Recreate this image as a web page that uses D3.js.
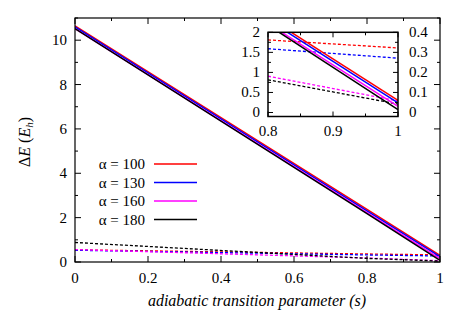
<!DOCTYPE html>
<html>
<head>
<meta charset="utf-8">
<script src="https://cdn.jsdelivr.net/npm/d3@7"></script>
</head>
<body style="margin:0">
<div id="c"></div>
<script>
// ---------- data ----------
const alphas = [100, 130, 160, 180];
const colors = ['#ff0000', '#0000ff', '#ff00ff', '#000000'];
const sGrid = [0, 0.8, 1];
// solid: Delta E (left scale, E_h)
const solidRed = [10.65, 2.37, 0.30];
const solidBlue = [10.60, 2.31, 0.24];
const solidMagenta = [10.52, 2.22, 0.15];
const solidBlack = [10.52, 2.18, 0.07];
// dashed: second quantity (inset right scale)
const dashRed = [0.55, 0.362, 0.322];
const dashBlue = [0.53, 0.318, 0.271];
const dashMagenta = [0.56, 0.181, 0.058];
const dashBlack = [0.88, 0.163, 0.042];

const solids = [solidRed, solidBlue, solidMagenta, solidBlack];
const dashes = [dashRed, dashBlue, dashMagenta, dashBlack];

const xTicks = [0, 0.2, 0.4, 0.6, 0.8, 1];
const yTicks = [0, 2, 4, 6, 8, 10];
const inXTicks = [0.8, 0.9, 1];
const inYLTicks = [0, 0.5, 1, 1.5, 2];
const inYRTicks = [0, 0.1, 0.2, 0.3, 0.4];

const W = 463, H = 324;
const serif = d => '"Liberation Serif"';
const svg = d3.select('#c').append('svg').attr('width', W).attr('height', H);

// ---------- main plot ----------
const x = d3.scaleLinear().domain([0, 1]).range([75, 440]);
const y = d3.scaleLinear().domain([0, 11]).range([262, 18]);

const defs = svg.append('defs');
defs.append('clipPath').attr('id', 'clipMain').append('rect')
  .attr('x', 75).attr('y', 18).attr('width', 365).attr('height', 244);

const pts = vals => vals.map((v, i) => [sGrid[i], v]);
const line = d3.line().x(d => x(d[0])).y(d => y(d[1]));

const mainG = svg.append('g').attr('clip-path', 'url(#clipMain)');
dashes.forEach((vals, i) => {
  mainG.append('path').attr('d', line(pts(vals)))
    .attr('fill', 'none').attr('stroke', colors[i]).attr('stroke-width', 1.3)
    .attr('stroke-dasharray', '3,2');
});
solids.forEach((vals, i) => {
  mainG.append('path').attr('d', line(pts(vals)))
    .attr('fill', 'none').attr('stroke', colors[i]).attr('stroke-width', 1.5);
});

// ticks (inward, mirrored)
const ticksG = svg.append('g').attr('stroke', '#000').attr('stroke-width', 1);
d3.range(0, 1.0001, 0.1).forEach(t => {
  const major = xTicks.some(m => Math.abs(m - t) < 1e-6);
  const len = major ? 6 : 3;
  ticksG.append('line').attr('x1', x(t)).attr('x2', x(t)).attr('y1', 262).attr('y2', 262 - len);
  ticksG.append('line').attr('x1', x(t)).attr('x2', x(t)).attr('y1', 18).attr('y2', 18 + len);
});
d3.range(0, 11.0001, 1).forEach(t => {
  const major = t % 2 === 0;
  const len = major ? 6 : 3;
  ticksG.append('line').attr('x1', 75).attr('x2', 75 + len).attr('y1', y(t)).attr('y2', y(t));
  ticksG.append('line').attr('x1', 440).attr('x2', 440 - len).attr('y1', y(t)).attr('y2', y(t));
});

svg.append('rect').attr('x', 75).attr('y', 18).attr('width', 365).attr('height', 244)
  .attr('fill', 'none').attr('stroke', '#000').attr('stroke-width', 1.2);

svg.append('g').selectAll('text').data(xTicks).join('text')
  .attr('x', d => x(d)).attr('y', 283).attr('text-anchor', 'middle')
  .attr('font-size', 15).style('font-family', serif).text(d => d3.format('~g')(d));
svg.append('g').selectAll('text').data(yTicks).join('text')
  .attr('x', 67).attr('y', d => y(d) + 5).attr('text-anchor', 'end')
  .attr('font-size', 15).style('font-family', serif).text(d => d);

svg.append('text').attr('x', 257).attr('y', 306).attr('text-anchor', 'middle')
  .attr('font-size', 16).style('font-family', serif).style('font-style', 'italic')
  .text('adiabatic transition parameter (s)');

const yl = svg.append('text').attr('transform', 'translate(30,142) rotate(-90)')
  .attr('text-anchor', 'middle').attr('font-size', 16).style('font-family', serif);
yl.append('tspan').text('Δ');
yl.append('tspan').style('font-style', 'italic').text('E');
yl.append('tspan').text(' (');
yl.append('tspan').style('font-style', 'italic').text('E');
yl.append('tspan').style('font-style', 'italic').attr('font-size', 11).attr('dy', 3).text('h');
yl.append('tspan').attr('dy', -3).text(')');

// legend
const legY = [164, 182.5, 201, 219.5];
svg.append('g').selectAll('text').data(alphas).join('text')
  .attr('x', 145).attr('y', (d, i) => legY[i] + 5).attr('text-anchor', 'end')
  .attr('font-size', 15).style('font-family', serif).text(d => 'α = ' + d);
svg.append('g').selectAll('line').data(alphas).join('line')
  .attr('x1', 154).attr('x2', 197).attr('y1', (d, i) => legY[i]).attr('y2', (d, i) => legY[i])
  .attr('stroke', (d, i) => colors[i]).attr('stroke-width', 1.5);

// ---------- inset ----------
const ix = d3.scaleLinear().domain([0.8, 1]).range([268, 398]);
const iyL = d3.scaleLinear().domain([-0.1, 2]).range([116.5, 32.3]);
const iyR = d3.scaleLinear().domain([-0.02, 0.4]).range([116.5, 32.3]);

svg.append('rect').attr('x', 268).attr('y', 32.3).attr('width', 130).attr('height', 84.2)
  .attr('fill', '#fff');
defs.append('clipPath').attr('id', 'clipIn').append('rect')
  .attr('x', 268).attr('y', 32.3).attr('width', 130).attr('height', 84.2);

const inG = svg.append('g').attr('clip-path', 'url(#clipIn)');
const lineR = d3.line().x(d => ix(d[0])).y(d => iyR(d[1]));
const lineL = d3.line().x(d => ix(d[0])).y(d => iyL(d[1]));
dashes.forEach((vals, i) => {
  inG.append('path').attr('d', lineR(pts(vals).slice(1)))
    .attr('fill', 'none').attr('stroke', colors[i]).attr('stroke-width', 1.3)
    .attr('stroke-dasharray', '3,2');
});
solids.forEach((vals, i) => {
  inG.append('path').attr('d', lineL(pts(vals).slice(1)))
    .attr('fill', 'none').attr('stroke', colors[i]).attr('stroke-width', 1.5);
});

const inTicks = svg.append('g').attr('stroke', '#000').attr('stroke-width', 1);
[0.8, 0.85, 0.9, 0.95, 1].forEach((t, k) => {
  const len = k % 2 === 0 ? 5 : 3;
  inTicks.append('line').attr('x1', ix(t)).attr('x2', ix(t)).attr('y1', 116.5).attr('y2', 116.5 - len);
  inTicks.append('line').attr('x1', ix(t)).attr('x2', ix(t)).attr('y1', 32.3).attr('y2', 32.3 + len);
});
d3.range(0, 2.0001, 0.25).forEach((t, k) => {
  const len = k % 2 === 0 ? 5 : 3;
  inTicks.append('line').attr('x1', 268).attr('x2', 268 + len).attr('y1', iyL(t)).attr('y2', iyL(t));
});
d3.range(0, 0.4001, 0.05).forEach((t, k) => {
  const len = k % 2 === 0 ? 5 : 3;
  inTicks.append('line').attr('x1', 398).attr('x2', 398 - len).attr('y1', iyR(t)).attr('y2', iyR(t));
});

svg.append('rect').attr('x', 268).attr('y', 32.3).attr('width', 130).attr('height', 84.2)
  .attr('fill', 'none').attr('stroke', '#000').attr('stroke-width', 1.5);

svg.append('g').selectAll('text').data(inXTicks).join('text')
  .attr('x', d => ix(d)).attr('y', 136).attr('text-anchor', 'middle')
  .attr('font-size', 15).style('font-family', serif).text(d => d3.format('~g')(d));
svg.append('g').selectAll('text').data(inYLTicks).join('text')
  .attr('x', 260).attr('y', d => iyL(d) + 5).attr('text-anchor', 'end')
  .attr('font-size', 15).style('font-family', serif).text(d => d);
svg.append('g').selectAll('text').data(inYRTicks).join('text')
  .attr('x', 409).attr('y', d => iyR(d) + 5).attr('text-anchor', 'start')
  .attr('font-size', 15).style('font-family', serif).text(d => d);
</script>
</body>
</html>
